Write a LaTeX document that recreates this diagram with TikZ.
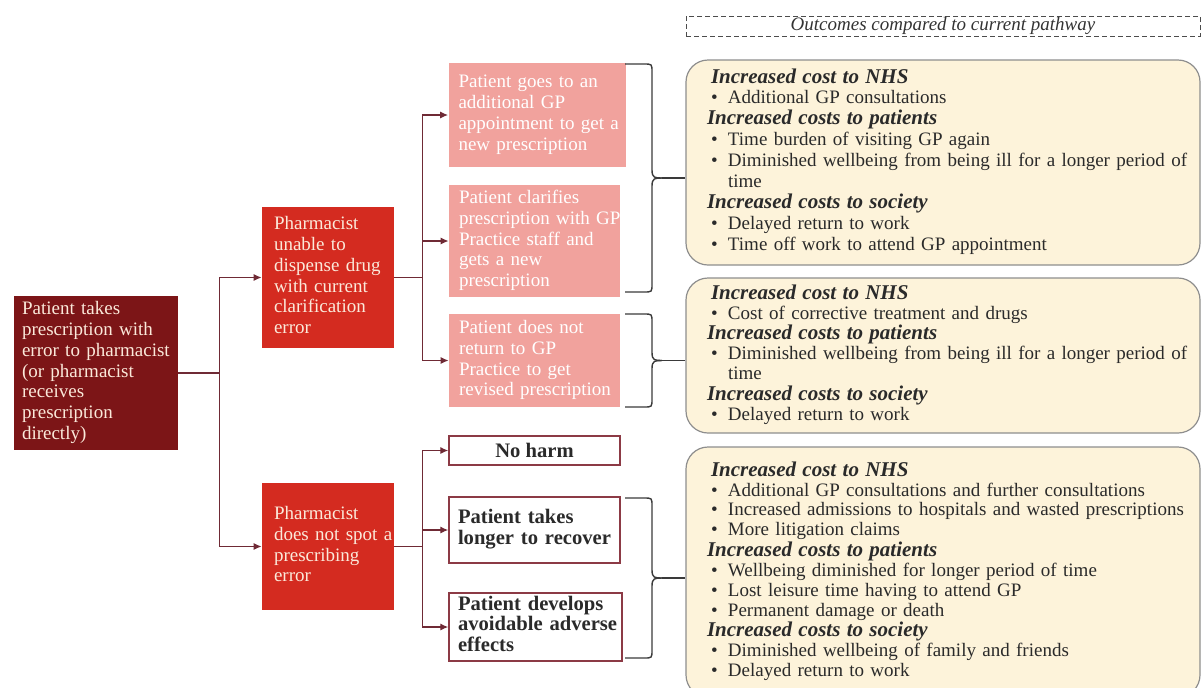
\documentclass[tikz,border=0pt]{standalone}
\usepackage{fontspec}
\setmainfont{Liberation Serif}
\usetikzlibrary{arrows.meta,calc}

\definecolor{rootred}{HTML}{7C1517}
\definecolor{midred}{HTML}{D42B20}
\definecolor{pinkbox}{HTML}{F1A29D}
\definecolor{creamtxt}{HTML}{FBE9DA}
\definecolor{outfill}{HTML}{FDF3DA}
\definecolor{outline}{HTML}{8E8E8E}
\definecolor{linkc}{HTML}{6F2A35}
\definecolor{wbord}{HTML}{8C3A45}
\definecolor{bracec}{HTML}{3A3A3A}
\definecolor{bodytxt}{HTML}{2A2A2A}

% text helpers
\newcommand\lns[1]{\begin{tabular}{@{}l@{}}#1\end{tabular}}
\newcommand\hd[1]{{\fontsize{10.5}{10}\selectfont\bfseries\itshape #1}}
\newcommand\bl[1]{\hspace*{2pt}\makebox[8.5pt][l]{\textbullet}#1}
\newcommand\cont[1]{\hspace*{10.5pt}#1}

% bracket joining a group of boxes to one outcome panel
% #1 top y, #2 bottom y, #3 outcome node, #4 name of the tip coordinate
\newcommand\grpbrace[4]{%
  \pgfmathsetmacro\bmid{(#1+#2)/2}%
  \coordinate (#4) at (662,\bmid);%
  \draw[brace] (625,#1) -- (644,#1) .. controls (652,#1) .. (652,#1+8)
     -- (652,\bmid-8) .. controls (652,\bmid) and (655,\bmid) .. (#4);%
  \draw[brace] (625,#2) -- (644,#2) .. controls (652,#2) .. (652,#2-8)
     -- (652,\bmid+8) .. controls (652,\bmid) and (655,\bmid) .. (#4);%
  \draw[brace] (#4) -- (#4 -| #3.west);%
}

\tikzset{
  base/.style={rectangle, inner ysep=0pt, align=left,
    font=\fontsize{9.5}{10.4}\selectfont},
  rootbox/.style={base, fill=rootred, text=creamtxt, inner xsep=4pt,
    minimum width=82pt, minimum height=77pt, text width=74pt},
  redbox/.style={base, fill=midred, text=creamtxt, inner xsep=6pt,
    minimum width=66pt, text width=54pt},
  pinkb/.style={base, fill=pinkbox, text=white, inner xsep=5pt},
  whitebox/.style={rectangle, inner ysep=0pt, inner xsep=4.5pt, align=left,
    draw=wbord, line width=0.75pt, fill=white, text=bodytxt,
    font=\fontsize{10.3}{10.2}\selectfont\bfseries},
  outbox/.style={rectangle, rounded corners=11pt, draw=outline,
    line width=0.6pt, fill=outfill, inner xsep=10.5pt, inner ysep=0pt,
    minimum width=257pt, text width=236pt, align=left, text=bodytxt},
  link/.style={draw=linkc, line width=0.65pt},
  arr/.style={link, -{Latex[length=4pt,width=3.6pt]}},
  brace/.style={draw=bracec, line width=0.7pt},
}

\begin{document}
\begin{tikzpicture}[x=0.5pt,y=-0.5pt]
\useasboundingbox (0,0) rectangle (1203,687);
\clip (0,0) rectangle (1203,687);

% header
\node[draw=black!70, dash pattern=on 2.5pt off 1.5pt, line width=0.5pt,
  minimum width=257pt, minimum height=10pt, inner sep=0pt,
  font=\fontsize{9.5}{10}\selectfont\itshape, text=black!80]
  (hdr) at (943,26) {Outcomes compared to current pathway};

% decision tree
\node[rootbox] (root) at (96,373) {\lns{Patient takes\\prescription with\\error to pharmacist\\(or pharmacist\\receives\\prescription\\directly)}};

\node[redbox, minimum height=70.5pt] (pa) at (328,277.5)
  {\lns{Pharmacist\\unable to\\dispense drug\\with current\\clarification\\error}};
\node[redbox, minimum height=63.5pt] (pb) at (328,546.5)
  {\lns{Pharmacist\\does not spot a\\prescribing\\error}};

\node[pinkb, minimum width=88.5pt, minimum height=52pt, text width=78.5pt] (g1) at (537,115)
  {\lns{Patient goes to an\\additional GP\\appointment to get a\\new prescription}};
\node[pinkb, minimum width=85.5pt, minimum height=56pt, text width=75.5pt] (g2) at (534.5,241)
  {\lns{Patient clarifies\\prescription with GP\\Practice staff and\\gets a new\\prescription}};
\node[pinkb, minimum width=85.5pt, minimum height=46.5pt, text width=75.5pt] (g3) at (534.5,360.5)
  {\lns{Patient does not\\return to GP\\Practice to get\\revised prescription}};

\node[whitebox, minimum width=85.5pt, minimum height=14.5pt, align=center] (nh) at (534.5,450.5) {No harm};
\node[whitebox, minimum width=85.5pt, minimum height=33pt, text width=76.5pt] (lr) at (534.5,530)
  {\lns{Patient takes\\longer to recover}};
\node[whitebox, minimum width=86.5pt, minimum height=34pt, text width=77.5pt] (ad) at (535.5,627)
  {\lns{Patient develops\\avoidable adverse\\effects}};

% outcome panels
\node[outbox, minimum height=102.5pt, font=\fontsize{9.5}{10.45}\selectfont] (o1) at (943,162.5)
  {\lns{\hspace*{2pt}\hd{Increased cost to NHS}\\
  \bl{Additional GP consultations}\\
  \hd{Increased costs to patients}\\
  \bl{Time burden of visiting GP again}\\
  \bl{Diminished wellbeing from being ill for a longer period of}\\
  \cont{time}\\
  \hd{Increased costs to society}\\
  \bl{Delayed return to work}\\
  \bl{Time off work to attend GP appointment}}};

\node[outbox, minimum height=77.5pt, font=\fontsize{9.5}{10}\selectfont] (o2) at (943,355.5)
  {\lns{\hspace*{2pt}\hd{Increased cost to NHS}\\
  \bl{Cost of corrective treatment and drugs}\\
  \hd{Increased costs to patients}\\
  \bl{Diminished wellbeing from being ill for a longer period of}\\
  \cont{time}\\
  \hd{Increased costs to society}\\
  \bl{Delayed return to work}}};

\node[outbox, minimum height=125pt, font=\fontsize{9.5}{9.95}\selectfont] (o3) at (943,572)
  {\lns{\hspace*{2pt}\hd{Increased cost to NHS}\\
  \bl{Additional GP consultations and further consultations}\\
  \bl{Increased admissions to hospitals and wasted prescriptions}\\
  \bl{More litigation claims}\\
  \hd{Increased costs to patients}\\
  \bl{Wellbeing diminished for longer period of time}\\
  \bl{Lost leisure time having to attend GP}\\
  \bl{Permanent damage or death}\\
  \hd{Increased costs to society}\\
  \bl{Diminished wellbeing of family and friends}\\
  \bl{Delayed return to work}}};

% connectors
\coordinate (j1) at ($(root.east)+(41,0)$);
\draw[link] (root.east) -- (j1);
\draw[arr] (j1) |- (pa.west);
\draw[arr] (j1) |- (pb.west);

\coordinate (j2) at ($(pa.east)+(28,0)$);
\draw[link] (pa.east) -- (j2);
\draw[arr] (j2) |- (g1.west);
\draw[arr] (j2) |- (g2.west);
\draw[arr] (j2) |- (g3.west);

\coordinate (j3) at ($(pb.east)+(28,0)$);
\draw[link] (pb.east) -- (j3);
\draw[arr] (j3) |- (nh.west);
\draw[arr] (j3) |- (lr.west);
\draw[arr] (j3) |- (ad.west);

% brackets to the outcome panels
\grpbrace{64}{292}{o1}{t1}
\grpbrace{314}{407}{o2}{t2}
\grpbrace{498}{658}{o3}{t3}
\end{tikzpicture}
\end{document}
